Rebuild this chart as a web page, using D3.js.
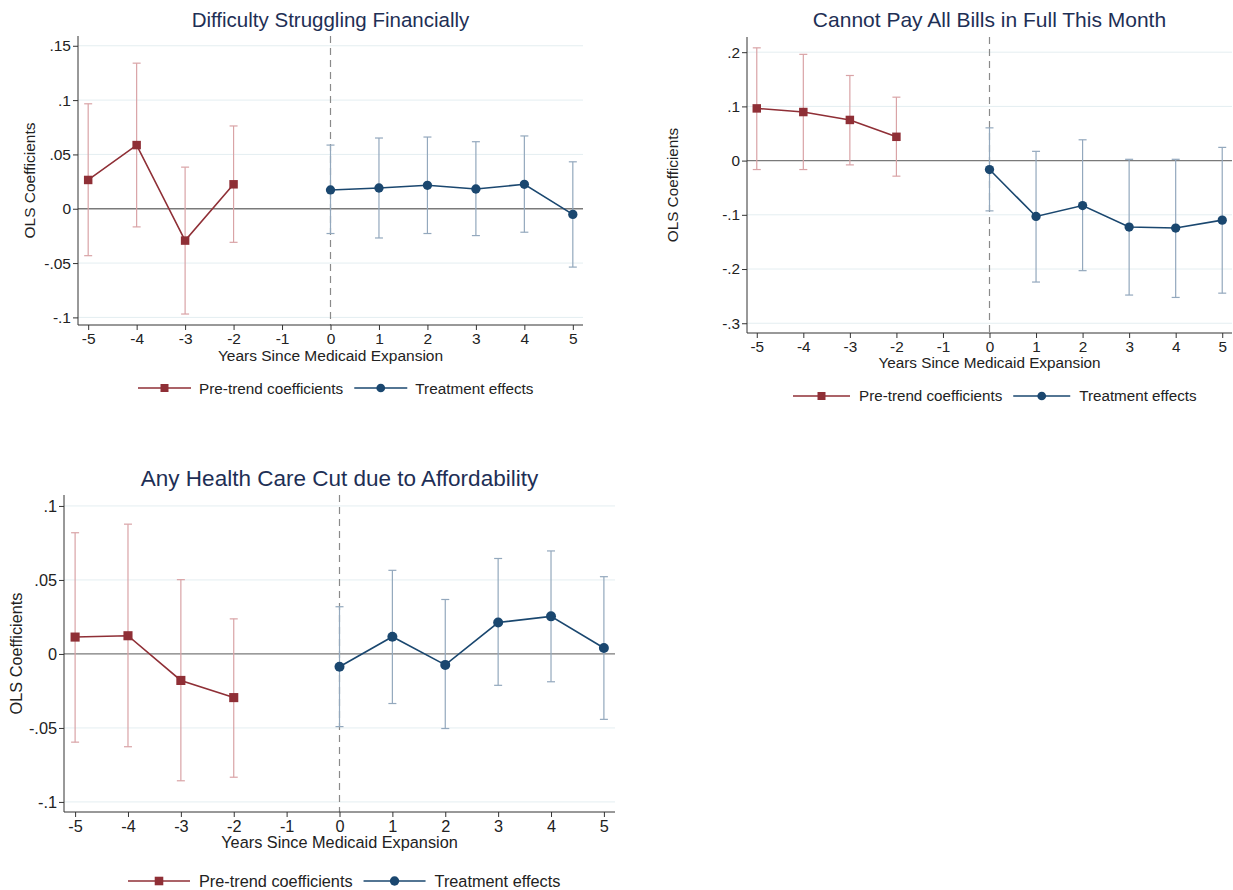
<!DOCTYPE html>
<html>
<head>
<meta charset="utf-8">
<script src="https://cdn.jsdelivr.net/npm/d3@7"></script>
<style>
  body { margin: 0; background: #fff; }
  svg text { font-family: "Liberation Sans", Arial, sans-serif; }
</style>
</head>
<body>
<div id="canvas"></div>
<script>
// event-time axis
const preYears = [-5, -4, -3, -2];
const postYears = [0, 1, 2, 3, 4, 5];
const xTicks = [-5, -4, -3, -2, -1, 0, 1, 2, 3, 4, 5];

// Difficulty Struggling Financially
const p1Pre = [0.0265, 0.0586, -0.0293, 0.0225];
const p1PreLo = [-0.0432, -0.0167, -0.0969, -0.0309];
const p1PreHi = [0.0966, 0.134, 0.0383, 0.0762];
const p1Post = [0.0173, 0.0191, 0.0216, 0.0182, 0.0225, -0.0052];
const p1PostLo = [-0.0228, -0.0269, -0.0228, -0.0247, -0.0216, -0.0537];
const p1PostHi = [0.0586, 0.0651, 0.066, 0.0617, 0.067, 0.0432];
const p1Ticks = [-0.1, -0.05, 0, 0.05, 0.1, 0.15];

// Cannot Pay All Bills in Full This Month
const p2Pre = [0.0963, 0.0896, 0.075, 0.0439];
const p2PreLo = [-0.0165, -0.0165, -0.0079, -0.0287];
const p2PreHi = [0.208, 0.196, 0.157, 0.117];
const p2Post = [-0.0165, -0.103, -0.0829, -0.1226, -0.1244, -0.1098];
const p2PostLo = [-0.0927, -0.224, -0.203, -0.248, -0.2524, -0.2445];
const p2PostHi = [0.0604, 0.0171, 0.0384, 0.0024, 0.0024, 0.0244];
const p2Ticks = [-0.3, -0.2, -0.1, 0, 0.1, 0.2];

// Any Health Care Cut due to Affordability
const p3Pre = [0.0114, 0.0123, -0.0179, -0.0295];
const p3PreLo = [-0.0596, -0.0627, -0.0857, -0.0833];
const p3PreHi = [0.0819, 0.0877, 0.0502, 0.0237];
const p3Post = [-0.0087, 0.0116, -0.0074, 0.0212, 0.0254, 0.004];
const p3PostLo = [-0.0491, -0.0335, -0.0504, -0.0212, -0.0188, -0.0442];
const p3PostHi = [0.0319, 0.0565, 0.0368, 0.0645, 0.0696, 0.0522];
const p3Ticks = [-0.1, -0.05, 0, 0.05, 0.1];

const titles = [
  "Difficulty Struggling Financially",
  "Cannot Pay All Bills in Full This Month",
  "Any Health Care Cut due to Affordability"
];
const legendLabels = ["Pre-trend coefficients", "Treatment effects"];

const preColor = "#8f2f36", preBar = "#d9a3a6";
const postColor = "#1a476f", postBar = "#93a8bd";

let svg = d3.select("#canvas")
  .append("svg")
  .attr("width", 1233)
  .attr("height", 890);

// Stata style tick label: .05 instead of 0.05, plain hyphen for minus
function fmtTick(v) {
  if (Math.abs(v) < 1e-9) return "0";
  let s = String(+v.toFixed(3));
  return s.replace("0.", ".");
}

function zip(years, est, lo, hi) {
  return years.map((y, i) => ({ x: y, y: est[i], lo: lo[i], hi: hi[i] }));
}

let panels = [
  { title: titles[0], left: 78, right: 583, top: 36, bottom: 325, yDom: [-0.107, 0.159], ticks: p1Ticks,
    pre: zip(preYears, p1Pre, p1PreLo, p1PreHi), post: zip(postYears, p1Post, p1PostLo, p1PostHi),
    titleY: 27, titleFs: 20.5, fs: 15.5, legFs: 15.3, yLabX: 35, legY: 388, legX: 138, legLine: 53, legGap: 8, ms: 1 },
  { title: titles[1], left: 747, right: 1232, top: 37, bottom: 333, yDom: [-0.318, 0.228], ticks: p2Ticks,
    pre: zip(preYears, p2Pre, p2PreLo, p2PreHi), post: zip(postYears, p2Post, p2PostLo, p2PostHi),
    titleY: 27, titleFs: 21, fs: 15.3, legFs: 15.2, yLabX: 678, legY: 396, legX: 793, legLine: 57, legGap: 9, ms: 1 },
  { title: titles[2], left: 64, right: 615, top: 495, bottom: 812, yDom: [-0.1068, 0.1074], ticks: p3Ticks,
    pre: zip(preYears, p3Pre, p3PreLo, p3PreHi), post: zip(postYears, p3Post, p3PostLo, p3PostHi),
    titleY: 486, titleFs: 22.5, fs: 16.3, legFs: 16.3, yLabX: 22, legY: 881, legX: 128, legLine: 62, legGap: 9, ms: 1.15 }
];

panels.forEach(function (p) {
  let g = svg.append("g");
  let xScale = d3.scaleLinear().domain([-5.21, 5.21]).range([p.left, p.right]);
  let yScale = d3.scaleLinear().domain(p.yDom).range([p.bottom, p.top]);

  // gridlines
  g.selectAll(".grid")
    .data(p.ticks.filter(t => t !== 0))
    .enter()
    .append("line")
    .attr("x1", p.left).attr("x2", p.right)
    .attr("y1", d => yScale(d)).attr("y2", d => yScale(d))
    .attr("stroke", "#e4eef1").attr("stroke-width", 1);

  // zero line
  g.append("line")
    .attr("x1", p.left).attr("x2", p.right)
    .attr("y1", yScale(0)).attr("y2", yScale(0))
    .attr("stroke", "#7a7a7a").attr("stroke-width", 1.3);

  // expansion year
  g.append("line")
    .attr("x1", xScale(0)).attr("x2", xScale(0))
    .attr("y1", p.top).attr("y2", p.bottom)
    .attr("stroke", "#8a8a8a").attr("stroke-width", 1.2)
    .attr("stroke-dasharray", "7,5");

  // axes
  let yAxis = d3.axisLeft(yScale).tickValues(p.ticks).tickFormat(fmtTick).tickSize(5).tickSizeOuter(0);
  let ya = g.append("g").attr("transform", "translate(" + p.left + ",0)").call(yAxis);
  ya.select(".domain").attr("d", "M0," + p.top + "V" + p.bottom).attr("stroke", "#333");

  let xAxis = d3.axisBottom(xScale).tickValues(xTicks).tickFormat(d => String(d)).tickSize(5).tickSizeOuter(0);
  let xa = g.append("g").attr("transform", "translate(0," + p.bottom + ")").call(xAxis);
  xa.select(".domain").attr("d", "M" + p.left + ",0H" + p.right).attr("stroke", "#333");

  [ya, xa].forEach(a => {
    a.selectAll(".tick line").attr("stroke", "#333");
    a.selectAll(".tick text").attr("fill", "#222").style("font-size", p.fs + "px");
  });
  ya.selectAll(".tick text").attr("x", -7);
  xa.selectAll(".tick text").attr("y", 8);

  // error bars and series
  function drawSeries(data, lineColor, barColor, shape) {
    let bars = g.append("g").selectAll("g").data(data).enter().append("g");
    bars.append("line")
      .attr("x1", d => xScale(d.x)).attr("x2", d => xScale(d.x))
      .attr("y1", d => yScale(d.lo)).attr("y2", d => yScale(d.hi))
      .attr("stroke", barColor).attr("stroke-width", 1.2);
    ["lo", "hi"].forEach(k => {
      bars.append("line")
        .attr("x1", d => xScale(d.x) - 4).attr("x2", d => xScale(d.x) + 4)
        .attr("y1", d => yScale(d[k])).attr("y2", d => yScale(d[k]))
        .attr("stroke", barColor).attr("stroke-width", 1.2);
    });

    g.append("path")
      .datum(data)
      .attr("fill", "none")
      .attr("stroke", lineColor)
      .attr("stroke-width", 1.6)
      .attr("d", d3.line().x(d => xScale(d.x)).y(d => yScale(d.y)));

    g.selectAll(null).data(data).enter()
      .append("path")
      .attr("transform", d => "translate(" + xScale(d.x) + "," + yScale(d.y) + ")")
      .attr("d", d3.symbol().type(shape).size((shape === d3.symbolSquare ? 72 : 68) * p.ms))
      .attr("fill", lineColor);
  }
  drawSeries(p.pre, preColor, preBar, d3.symbolSquare);
  drawSeries(p.post, postColor, postBar, d3.symbolCircle);

  // titles
  g.append("text")
    .attr("x", (p.left + p.right) / 2).attr("y", p.titleY)
    .attr("text-anchor", "middle")
    .style("font-size", p.titleFs + "px").attr("fill", "#1e2f55")
    .text(p.title);

  g.append("text")
    .attr("x", (p.left + p.right) / 2).attr("y", p.bottom + 20 + p.fs)
    .attr("text-anchor", "middle")
    .style("font-size", p.fs + "px").attr("fill", "#222")
    .text("Years Since Medicaid Expansion");

  g.append("text")
    .attr("transform", "translate(" + p.yLabX + "," + (p.top + p.bottom) / 2 + ") rotate(-90)")
    .attr("text-anchor", "middle")
    .style("font-size", p.fs + "px").attr("fill", "#222")
    .text("OLS Coefficients");

  // legend
  let leg = g.append("g").attr("transform", "translate(" + p.legX + "," + p.legY + ")");
  let x0 = 0;
  [[legendLabels[0], preColor, d3.symbolSquare], [legendLabels[1], postColor, d3.symbolCircle]].forEach(function (item, i) {
    leg.append("line")
      .attr("x1", x0).attr("x2", x0 + p.legLine).attr("y1", 0).attr("y2", 0)
      .attr("stroke", item[1]).attr("stroke-width", 1.6);
    leg.append("path")
      .attr("transform", "translate(" + (x0 + p.legLine / 2) + ",0)")
      .attr("d", d3.symbol().type(item[2]).size((item[2] === d3.symbolSquare ? 64 : 60) * p.ms))
      .attr("fill", item[1]);
    let t = leg.append("text")
      .attr("x", x0 + p.legLine + p.legGap).attr("y", p.legFs * 0.36)
      .style("font-size", p.legFs + "px").attr("fill", "#222")
      .text(item[0]);
    x0 += p.legLine + p.legGap + t.node().getComputedTextLength() + 11;
  });
});
</script>
</body>
</html>
